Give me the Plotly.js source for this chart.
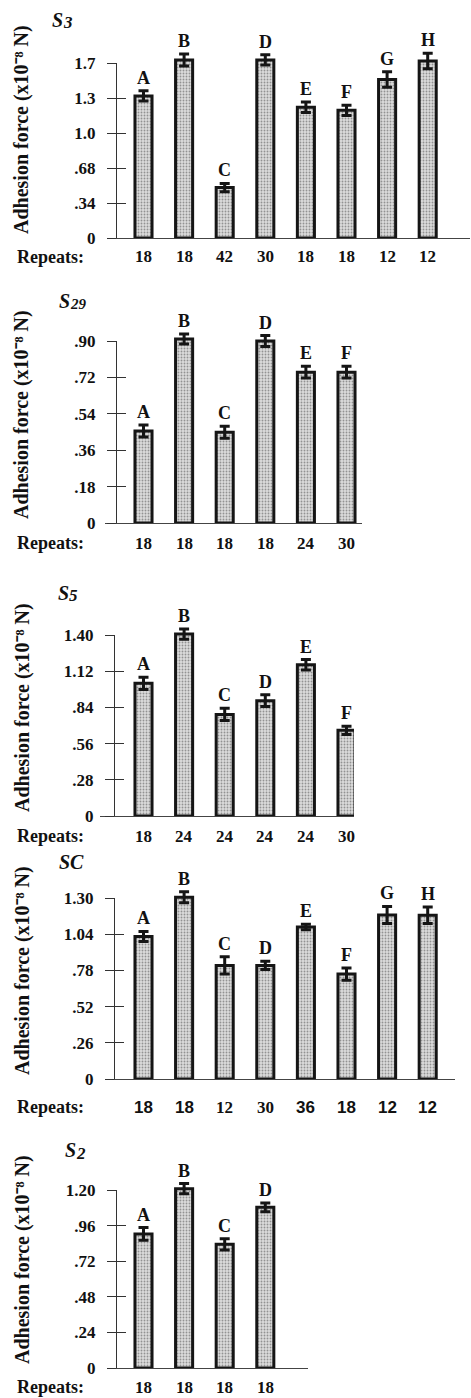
<!DOCTYPE html>
<html><head><meta charset="utf-8">
<script src="https://cdn.plot.ly/plotly-3.0.1.min.js"></script>
<style>html,body{margin:0;padding:0;background:#fff}#chart{width:471px;height:1398px}</style>
</head><body><div id="chart"></div>
<script>
// ---------- data ----------
const s3Cats = ['A','B','C','D','E','F','G','H'];
const s3Vals = [1.38, 1.73, 0.49, 1.73, 1.27, 1.24, 1.54, 1.72];
const s3Errs = [0.05, 0.058, 0.04, 0.05, 0.05, 0.05, 0.075, 0.075];
const s3Reps = ['18','18','42','30','18','18','12','12'];
const s3TickVals = [0, 0.34, 0.68, 1.02, 1.36, 1.70];
const s3TickText = ['0', '.34', '.68', '1.0', '1.3', '1.7'];

const s29Cats = ['A','B','C','D','E','F'];
const s29Vals = [0.455, 0.91, 0.449, 0.90, 0.746, 0.746];
const s29Errs = [0.03, 0.025, 0.03, 0.027, 0.029, 0.029];
const s29Reps = ['18','18','18','18','24','30'];
const s29TickVals = [0, 0.18, 0.36, 0.54, 0.72, 0.90];
const s29TickText = ['0', '.18', '.36', '.54', '.72', '.90'];

const s5Cats = ['A','B','C','D','E','F'];
const s5Vals = [1.026, 1.407, 0.786, 0.892, 1.17, 0.663];
const s5Errs = [0.048, 0.04, 0.048, 0.045, 0.04, 0.032];
const s5Reps = ['18','24','24','24','24','30'];
const s5TickVals = [0, 0.28, 0.56, 0.84, 1.12, 1.40];
const s5TickText = ['0', '.28', '.56', '.84', '1.12', '1.40'];

const scCats = ['A','B','C','D','E','F','G','H'];
const scVals = [1.024, 1.305, 0.816, 0.816, 1.092, 0.754, 1.178, 1.176];
const scErrs = [0.036, 0.04, 0.062, 0.03, 0.02, 0.044, 0.061, 0.06];
const scReps = ['18','18','12','30','36','18','12','12'];
const scTickVals = [0, 0.26, 0.52, 0.78, 1.04, 1.30];
const scTickText = ['0', '.26', '.52', '.78', '1.04', '1.30'];

const s2Cats = ['A','B','C','D'];
const s2Vals = [0.904, 1.209, 0.834, 1.083];
const s2Errs = [0.043, 0.034, 0.038, 0.03];
const s2Reps = ['18','18','18','18'];
const s2TickVals = [0, 0.24, 0.48, 0.72, 0.96, 1.20];
const s2TickText = ['0', '.24', '.48', '.72', '.96', '1.20'];

const yTitle = 'Adhesion force (x10\u207B\u2078 N)';
const repLabel = 'Repeats:';

// ---------- layout config ----------
const W = 471, H = 1398;
const px = x => x / W;
const py = y => 1 - y / H;
const SERIF = '"Liberation Serif", "Times New Roman", serif';
const SANS = '"Liberation Sans", Arial, sans-serif';
const C0 = 143.5, STEP = 40.6;
const HEAD = 60; // extra px above top tick for bars / letters

const panels = [
  {main:'S', idx:'3', idxSize:17, cats:s3Cats, vals:s3Vals, errs:s3Errs, reps:s3Reps, tv:s3TickVals, tt:s3TickText,
   zero:238, top:63, yx:116, bx0:110, bx1:470, repY:257, tX:50, tY:20},
  {main:'S', idx:'29', idxSize:15, cats:s29Cats, vals:s29Vals, errs:s29Errs, reps:s29Reps, tv:s29TickVals, tt:s29TickText,
   zero:523, top:341, yx:116, bx0:105, bx1:362, repY:543, tX:57, tY:301},
  {main:'S', idx:'5', idxSize:17, cats:s5Cats, vals:s5Vals, errs:s5Errs, reps:s5Reps, tv:s5TickVals, tt:s5TickText,
   zero:816, top:635, yx:114, bx0:100, bx1:354, repY:836, tX:56, tY:593},
  {main:'SC', idx:'', idxSize:17, cats:scCats, vals:scVals, errs:scErrs, reps:scReps, tv:scTickVals, tt:scTickText,
   zero:1079, top:898, yx:114, bx0:105, bx1:455, repY:1107, tX:57, tY:862,
   repFonts:[SANS,SANS,SERIF,SERIF,SANS,SANS,SANS,SANS]},
  {main:'S', idx:'2', idxSize:17, cats:s2Cats, vals:s2Vals, errs:s2Errs, reps:s2Reps, tv:s2TickVals, tt:s2TickText,
   zero:1368, top:1190, yx:116, bx0:107, bx1:308, repY:1387, tX:63, tY:1150}
];

const data = [];
const layout = {
  width: W, height: H, margin: {l:0, r:0, t:0, b:0},
  paper_bgcolor: '#fff', plot_bgcolor: 'rgba(0,0,0,0)',
  showlegend: false, annotations: [], bargap: 0
};
const N = panels.length;

panels.forEach((p, i) => {
  const k = i + 1, kv = k + N, ki = k + 2 * N;
  const xa = 'x' + k, ya = 'y' + k, yv = 'y' + kv, yi = 'y' + ki;
  const topVal = p.tv[p.tv.length - 1];
  const span = p.zero - p.top;
  const extTop = topVal * (span + HEAD) / span;

  layout['xaxis' + k] = {
    domain: [px(p.bx0), px(p.bx1)], anchor: ya, type: 'category',
    range: [(p.bx0 - C0) / STEP, (p.bx1 - C0) / STEP],
    showline: true, linecolor: '#444', linewidth: 1, ticks: '', showticklabels: false,
    showgrid: false, zeroline: false, fixedrange: true
  };
  layout['yaxis' + k] = {
    domain: [py(p.zero), py(p.top - HEAD)], range: [0, extTop], anchor: 'free', position: px(p.yx),
    visible: false, showgrid: false, zeroline: false, fixedrange: true
  };
  const yCommon = {
    domain: [py(p.zero), py(p.top)], range: [0, topVal], anchor: 'free', position: px(p.yx),
    tickmode: 'array', tickvals: p.tv, showgrid: false, zeroline: false, fixedrange: true,
    tickcolor: '#333', tickwidth: 1, ticklen: 9
  };
  layout['yaxis' + kv] = Object.assign({}, yCommon, {
    ticktext: p.tt, ticks: 'outside', showline: true, linecolor: '#333', linewidth: 1,
    tickfont: {family: SERIF, size: 17, color: '#111', weight: 700}, ticklabelstandoff: 8
  });
  layout['yaxis' + ki] = Object.assign({}, yCommon, {
    overlaying: yv, ticks: 'inside', showline: false, showticklabels: false
  });

  data.push({
    type: 'bar', x: p.cats, y: p.vals, xaxis: xa, yaxis: ya, width: 0.42,
    hoverinfo: 'skip',
    marker: {color: '#c8c8c8', line: {color: '#151515', width: 3},
             pattern: {shape: '.', fgcolor: '#929292', bgcolor: '#dcdcdc', size: 3, solidity: 0.3}},
    error_y: {type: 'data', array: p.errs, visible: true, color: '#151515', thickness: 3, width: 5}
  });
  data.push({type: 'scatter', x: [p.cats[0]], y: [0], xaxis: xa, yaxis: yv, mode: 'none', hoverinfo: 'skip'});
  data.push({type: 'scatter', x: [p.cats[0]], y: [0], xaxis: xa, yaxis: yi, mode: 'none', hoverinfo: 'skip'});

  p.cats.forEach((c, j) => {
    layout.annotations.push({
      xref: xa, yref: ya, x: c, y: p.vals[j] + p.errs[j], text: c, showarrow: false,
      xanchor: 'center', yanchor: 'bottom', yshift: 1,
      font: {family: SERIF, size: 18, color: '#111', weight: 700}
    });
    layout.annotations.push({
      xref: xa, yref: 'paper', x: c, y: py(p.repY), text: p.reps[j], showarrow: false,
      xanchor: 'center', yanchor: 'middle',
      font: {family: p.repFonts ? p.repFonts[j] : SERIF, size: 17, color: '#111', weight: 700}
    });
  });
  layout.annotations.push({
    xref: 'paper', yref: 'paper', x: px(15), y: py(p.repY), text: repLabel, showarrow: false,
    xanchor: 'left', yanchor: 'middle', font: {family: SERIF, size: 18, color: '#111', weight: 700}
  });
  layout.annotations.push({
    xref: 'paper', yref: 'paper', x: px(22), y: py(p.zero - 108), text: yTitle, showarrow: false,
    textangle: -90, xanchor: 'center', yanchor: 'middle',
    font: {family: SERIF, size: 20, color: '#111', weight: 700}
  });
  layout.annotations.push({
    xref: 'paper', yref: 'paper', x: px(p.tX), y: py(p.tY), text: p.main, showarrow: false,
    xanchor: 'left', yanchor: 'middle',
    font: {family: SERIF, size: 20, color: '#111', weight: 700, style: 'italic'}
  });
  if (p.idx) {
    layout.annotations.push({
      xref: 'paper', yref: 'paper', x: px(p.tX + 11), y: py(p.tY), yshift: -3, text: p.idx, showarrow: false,
      xanchor: 'left', yanchor: 'middle',
      font: {family: SERIF, size: p.idxSize, color: '#111', weight: 700, style: 'italic'}
    });
  }
});

Plotly.newPlot('chart', data, layout, {staticPlot: true, displayModeBar: false});
</script></body></html>
